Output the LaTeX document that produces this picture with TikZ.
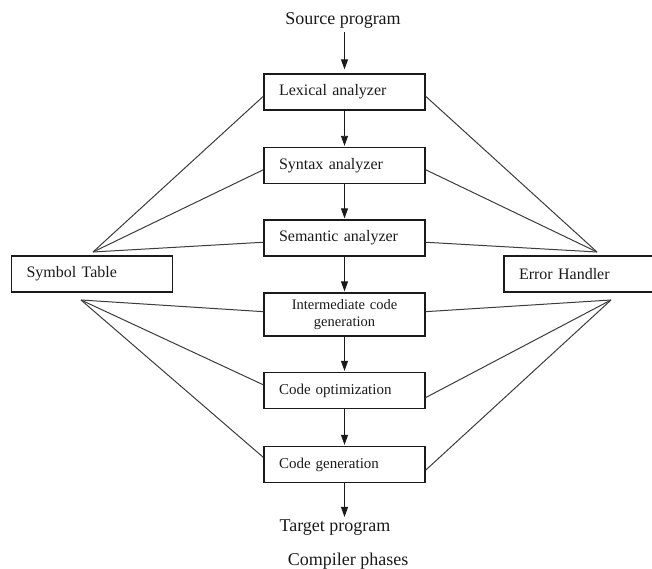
\documentclass[tikz,border=0pt]{standalone}
\usepackage{fontspec}
\setmainfont{Liberation Serif}
\usetikzlibrary{arrows.meta,positioning}
\definecolor{phInk}{HTML}{1A1A1A}
\tikzset{
  card/.style  = {rectangle, draw=phInk, line width=1.3pt, inner xsep=15pt,
                  inner ysep=0pt, text width=131pt, align=left,
                  minimum height=36pt, text=phInk,
                  font=\fontsize{16}{19}\selectfont},
  flow/.style  = {line width=0.9pt, draw=phInk,
                  -{Triangle[length=10pt,width=7pt]}},
  tie/.style   = {line width=1pt, draw=phInk!85},
  lbl/.style   = {inner sep=0pt, text=phInk, font=\fontsize{18}{21}\selectfont},
}
\begin{document}
\begin{tikzpicture}[x=1pt, y=1pt]

% frame of the page, the error handler runs off its right edge
\path[use as bounding box] (0,0) rectangle (652,568);
\clip (0,0) rectangle (652,568);

% dimensions
\def\colx{344.5}   % centre of the phase column

% --- in and out ---
\node[lbl] (src) at (343,548) {Source program};
\node[lbl] (tgt) at (335,40)  {Target program};
\node[lbl] (cap) at (348,7)   {Compiler phases};

% --- the six phases ---
\node[card] (lex) at (\colx,476)   {Lexical analyzer};
\node[card] (syn) at (\colx,402.5) {Syntax analyzer};
\node[card] (sem) at (\colx,330)   {Semantic analyzer};
\node[card, align=center, minimum height=43pt,
      font=\fontsize{14.5}{17}\selectfont] (icg) at (\colx,253.5)
  {Intermediate code\\generation};
\node[card, font=\fontsize{15}{18}\selectfont] (opt) at (\colx,177.5)
  {Code optimization};
\node[card, font=\fontsize{15}{18}\selectfont] (gen) at (\colx,103.5)
  {Code generation};

% --- side boxes ---
\node[card] (sym) at (92,294)    {Symbol Table};
\node[card] (err) at (584.5,294) {Error Handler};

% points where the ties meet
\coordinate (symTop) at (93,316);
\coordinate (symBot) at (81,268);
\coordinate (errTop) at (597,316);
\coordinate (errBot) at (611,268);

% --- main flow ---
\draw[flow, shorten <=4pt, shorten >=4pt] (src.south -| lex) -- (lex);
\draw[flow, shorten >=1pt] (lex) -- (syn);
\draw[flow, shorten >=1pt] (syn) -- (sem);
\draw[flow, shorten >=1pt] (sem) -- (icg);
\draw[flow, shorten >=1pt] (icg) -- (opt);
\draw[flow, shorten >=1pt] (opt) -- (gen);
\draw[flow, shorten >=3pt] (gen) -- (gen |- tgt.north);

% --- ties to the symbol table ---
\draw[tie] (symTop) -- (lex.183);
\draw[tie] (symTop) -- (syn.183);
\draw[tie] (symTop) -- (sem.183);
\draw[tie] (symBot) -- (icg.178);
\draw[tie] (symBot) -- (opt.176);
\draw[tie] (symBot) -- (gen.175);

% --- ties to the error handler ---
\draw[tie] (errTop) -- (lex.357);
\draw[tie] (errTop) -- (syn.357);
\draw[tie] (errTop) -- (sem.357);
\draw[tie] (errBot) -- (icg.2);
\draw[tie] (errBot) -- (opt.355);
\draw[tie] (errBot) -- (gen.356);

\end{tikzpicture}
\end{document}
